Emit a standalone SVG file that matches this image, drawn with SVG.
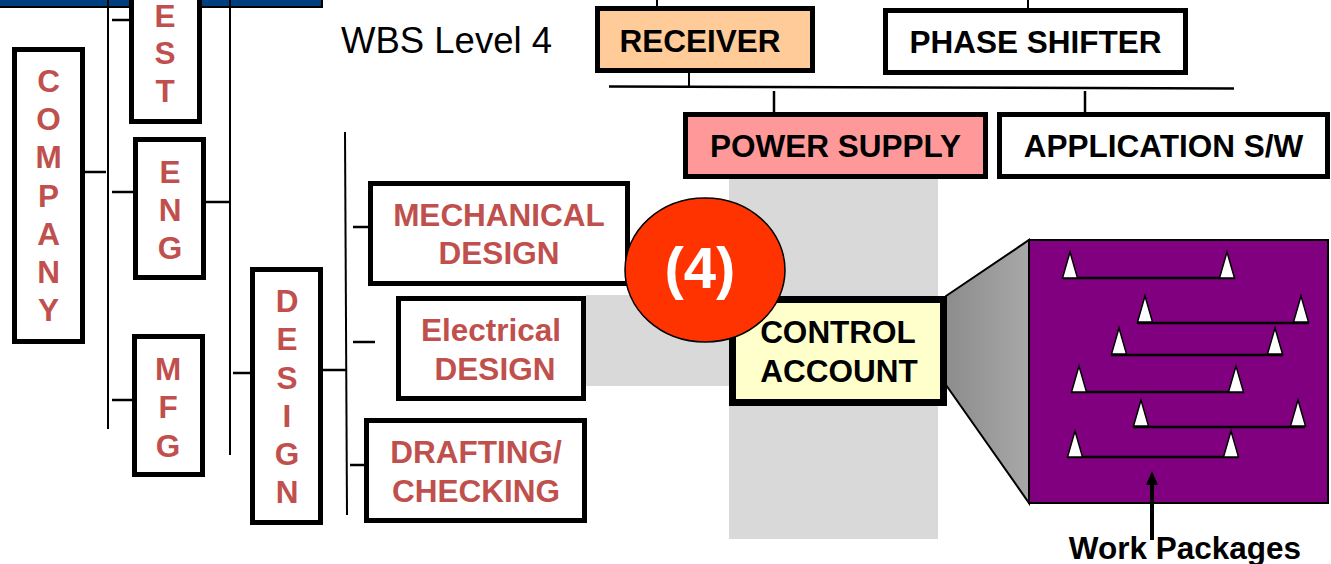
<svg xmlns="http://www.w3.org/2000/svg" width="1331" height="564" viewBox="0 0 1331 564">
  <defs>
    <style>
      .box { fill: #ffffff; stroke: #000000; stroke-width: 5; }
      .thin { stroke: #000000; stroke-width: 2; fill: none; }
      .tick { stroke: #000000; stroke-width: 2.5; fill: none; }
      .red { font-family: "Liberation Sans", Arial, sans-serif; font-weight: bold; font-size: 31.5px; fill: #c0504d; text-anchor: middle; }
      .blk { font-family: "Liberation Sans", Arial, sans-serif; font-weight: bold; font-size: 31.5px; fill: #000000; text-anchor: middle; }
      .ms { fill: #ffffff; stroke: #000000; stroke-width: 1.5; }
      .bar { stroke: #000000; stroke-width: 2.5; }
    </style>
    <linearGradient id="funnel" x1="0" y1="0" x2="1" y2="0">
      <stop offset="0" stop-color="#8c8c8c"/>
      <stop offset="1" stop-color="#a8a8a8"/>
    </linearGradient>
  </defs>

  <!-- shaded bands behind the control account -->
  <rect x="729" y="178" width="209" height="361" fill="#d9d9d9"/>
  <rect x="586" y="295" width="145" height="91" fill="#d9d9d9"/>

  <!-- header bar -->
  <rect x="-5" y="-5" width="327" height="12" fill="#003f7f" stroke="#000000" stroke-width="2"/>

  <g id="connectors">
    <line class="thin" x1="108" y1="0" x2="108" y2="429"/>
    <line class="thin" x1="230" y1="0" x2="230" y2="455"/>
    <line class="thin" x1="345" y1="132" x2="347" y2="515"/>
    <line class="tick" x1="85" y1="172" x2="106" y2="172"/>
    <line class="tick" x1="112" y1="20" x2="131" y2="20"/>
    <line class="tick" x1="112" y1="192" x2="135" y2="192"/>
    <line class="tick" x1="112" y1="400" x2="134" y2="400"/>
    <line class="tick" x1="206" y1="202" x2="229" y2="202"/>
    <line class="tick" x1="233" y1="373" x2="252" y2="373"/>
    <line class="tick" x1="323" y1="370" x2="346" y2="370"/>
    <line class="tick" x1="353" y1="227" x2="375" y2="227"/>
    <line class="tick" x1="353" y1="342" x2="375" y2="342"/>
    <line class="tick" x1="350" y1="465" x2="372" y2="465"/>
    <line class="thin" x1="657" y1="0" x2="657" y2="8"/>
    <line class="thin" x1="1028" y1="0" x2="1028" y2="10"/>
    <line class="tick" x1="609" y1="86.5" x2="1234" y2="88.5"/>
    <line class="thin" x1="689" y1="66" x2="689" y2="87"/>
    <line class="tick" x1="774" y1="91" x2="774" y2="114"/>
    <line class="tick" x1="1085" y1="91" x2="1085" y2="114"/>
  </g>

  <g id="company">
    <rect class="box" x="14.5" y="49.5" width="68" height="292"/>
    <text class="red" x="48.5" y="92">C</text>
    <text class="red" x="48.5" y="130">O</text>
    <text class="red" x="48.5" y="168">M</text>
    <text class="red" x="48.5" y="207">P</text>
    <text class="red" x="48.5" y="245">A</text>
    <text class="red" x="48.5" y="283">N</text>
    <text class="red" x="48.5" y="321">Y</text>
  </g>

  <g id="test">
    <rect class="box" x="131.5" y="-10" width="68" height="131.5"/>
    <text class="red" x="165" y="27">E</text>
    <text class="red" x="165" y="64">S</text>
    <text class="red" x="165" y="102">T</text>
  </g>

  <g id="eng">
    <rect class="box" x="135.5" y="139.5" width="68" height="138"/>
    <text class="red" x="170" y="183">E</text>
    <text class="red" x="170" y="221">N</text>
    <text class="red" x="170" y="259">G</text>
  </g>

  <g id="mfg">
    <rect class="box" x="134.5" y="336.5" width="68" height="138"/>
    <text class="red" x="168" y="380">M</text>
    <text class="red" x="168" y="418">F</text>
    <text class="red" x="168" y="457">G</text>
  </g>

  <g id="design">
    <rect class="box" x="252.5" y="269.5" width="68" height="253"/>
    <text class="red" x="287" y="312">D</text>
    <text class="red" x="287" y="350">E</text>
    <text class="red" x="287" y="389">S</text>
    <text class="red" x="287" y="427">I</text>
    <text class="red" x="287" y="465">G</text>
    <text class="red" x="287" y="503">N</text>
  </g>

  <text x="341" y="53" font-family="Liberation Sans, Arial, sans-serif" font-size="36.5" fill="#000000">WBS Level 4</text>

  <g id="receiver">
    <rect class="box" x="597.5" y="8.5" width="215" height="62" style="fill:#ffcc99"/>
    <text class="blk" x="700" y="52">RECEIVER</text>
  </g>

  <g id="phase-shifter">
    <rect class="box" x="885.5" y="10.5" width="300" height="62"/>
    <text class="blk" x="1035.5" y="53">PHASE SHIFTER</text>
  </g>

  <g id="power-supply">
    <rect class="box" x="685.5" y="114.5" width="300" height="62" style="fill:#ff9999"/>
    <text class="blk" x="835.5" y="157">POWER SUPPLY</text>
  </g>

  <g id="application-sw">
    <rect class="box" x="999.5" y="114.5" width="328" height="62"/>
    <text class="blk" x="1163.5" y="157">APPLICATION S/W</text>
  </g>

  <g id="mechanical-design">
    <rect class="box" x="370.5" y="183.5" width="257" height="100"/>
    <text class="red" x="499" y="226">MECHANICAL</text>
    <text class="red" x="499" y="264">DESIGN</text>
  </g>

  <g id="electrical-design">
    <rect class="box" x="398.5" y="298.5" width="185" height="100"/>
    <text class="red" x="491" y="341">Electrical</text>
    <text class="red" x="495" y="380">DESIGN</text>
  </g>

  <g id="drafting-checking">
    <rect class="box" x="366.5" y="420.5" width="218" height="100"/>
    <text class="red" x="476" y="463">DRAFTING/</text>
    <text class="red" x="476" y="502">CHECKING</text>
  </g>

  <g id="control-account">
    <rect x="732.5" y="299.5" width="211" height="103" fill="#ffffcc" stroke="#000000" stroke-width="7"/>
    <text class="blk" x="838" y="343">CONTROL</text>
    <text class="blk" x="839" y="382">ACCOUNT</text>
  </g>

  <g id="level-4-marker">
    <ellipse cx="705" cy="270" rx="80" ry="72" fill="#ff3300" stroke="#000000" stroke-width="1.5"/>
    <text x="700" y="288" font-family="Liberation Sans, Arial, sans-serif" font-weight="bold" font-size="58" fill="#ffffff" text-anchor="middle">(4)</text>
  </g>

  <g id="work-packages">
    <polygon points="946,296 1029,240 1029,503 946,385" fill="url(#funnel)" stroke="#000000" stroke-width="2"/>
    <rect x="1029" y="240" width="299" height="263" fill="#800080" stroke="#000000" stroke-width="2"/>
    <!-- package bars with start/finish milestones -->
    <line class="bar" x1="1063" y1="278" x2="1235" y2="278"/>
    <polygon class="ms" points="1070,252 1077.5,278 1062.5,278"/>
    <polygon class="ms" points="1227,252 1234.5,278 1219.5,278"/>
    <line class="bar" x1="1137" y1="323" x2="1309" y2="323"/>
    <polygon class="ms" points="1145,296 1152.5,322 1137.5,322"/>
    <polygon class="ms" points="1301,296 1308.5,322 1293.5,322"/>
    <line class="bar" x1="1111" y1="355" x2="1283" y2="355"/>
    <polygon class="ms" points="1119,328 1126.5,354 1111.5,354"/>
    <polygon class="ms" points="1275,328 1282.5,354 1267.5,354"/>
    <line class="bar" x1="1071" y1="392" x2="1244" y2="392"/>
    <polygon class="ms" points="1079,366 1086.5,392 1071.5,392"/>
    <polygon class="ms" points="1236,366 1243.5,392 1228.5,392"/>
    <line class="bar" x1="1133" y1="427" x2="1305" y2="427"/>
    <polygon class="ms" points="1141,400 1148.5,426 1133.5,426"/>
    <polygon class="ms" points="1298,400 1305.5,426 1290.5,426"/>
    <line class="bar" x1="1067" y1="457" x2="1238" y2="457"/>
    <polygon class="ms" points="1075,431 1082.5,457 1067.5,457"/>
    <polygon class="ms" points="1231,431 1238.5,457 1223.5,457"/>
    <!-- pointer to the package bars -->
    <line x1="1152" y1="540" x2="1152" y2="482" stroke="#000000" stroke-width="4"/>
    <polygon points="1152,471 1158,485 1146,485" fill="#000000"/>
    <text class="blk" x="1185" y="559">Work Packages</text>
  </g>
</svg>
